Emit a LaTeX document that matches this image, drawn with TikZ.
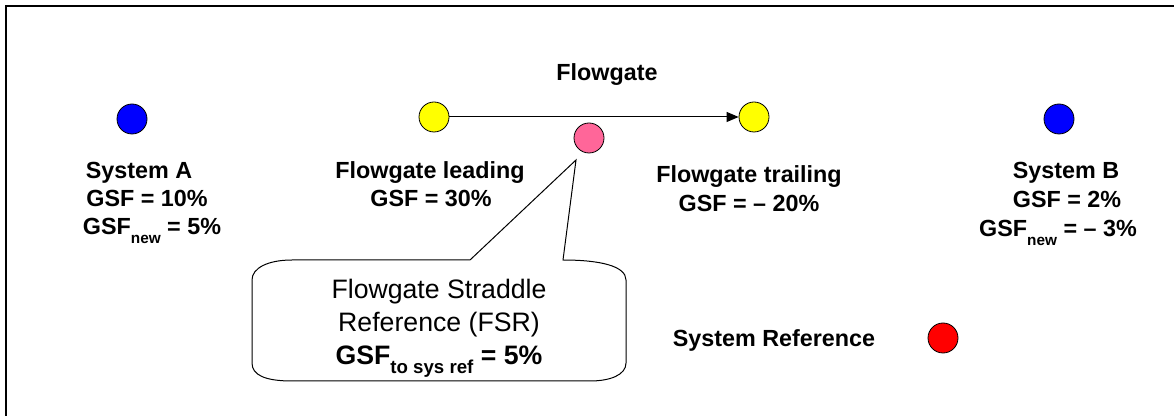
\documentclass[tikz,border=0pt]{standalone}
\usepackage{fontspec}
\setmainfont{Liberation Sans}
\usetikzlibrary{arrows.meta}

\definecolor{busblue}{RGB}{0,0,255}
\definecolor{fgyellow}{RGB}{255,255,0}
\definecolor{fsrpink}{RGB}{255,102,153}
\definecolor{refred}{RGB}{255,0,0}

% lowered, smaller subscript text: #1 size, #2 drop, #3 text
\newcommand{\lowsub}[3]{\raisebox{-#2}{\fontsize{#1}{#1}\selectfont #3}}

\begin{document}
\begin{tikzpicture}[x=0.75pt,y=-0.75pt,
  bus/.style={circle, draw=black, line width=0.6pt, minimum size=22.5pt, inner sep=0pt},
  lbl/.style={font=\bfseries\fontsize{17.5}{21}\selectfont, anchor=base, inner sep=0pt},
  note/.style={font=\fontsize{20}{24}\selectfont, anchor=base, inner sep=0pt},
  link/.style={line width=0.75pt, -{Triangle[length=9pt,width=7.5pt]}},
  outline/.style={line width=0.75pt, fill=white}]

\useasboundingbox (0,0) rectangle (1174,416);
\fill[white] (0,0) rectangle (1174,416);
% frame (top and left edges)
\draw[line width=1.5pt] (6,416) -- (6,6) -- (1174,6);

% buses
\node[bus, fill=busblue]  (sysA)   at (132,119) {};
\node[bus, fill=fgyellow] (lead)   at (434,117) {};
\node[bus, fill=fgyellow] (trail)  at (754,117) {};
\node[bus, fill=fsrpink]  (fsr)    at (589,138) {};
\node[bus, fill=busblue]  (sysB)   at (1059,119) {};
\node[bus, fill=refred]   (sysref) at (943,338) {};

% flowgate
\draw[link] (lead) -- (trail);
\node[lbl] (fgtitle) at (607,81) {Flowgate};

% System A
\node[lbl] (aname) at (139,179) {System A};
\node[lbl] (agsf)  at (147,207) {GSF = 10\%};
\node[lbl] (anew)  at (152,235) {GSF\lowsub{11.5}{6.5pt}{new} = 5\%};

% flowgate leading
\node[lbl] (lname) at (430,179) {Flowgate leading};
\node[lbl] (lgsf)  at (431,207) {GSF = 30\%};

% flowgate trailing
\node[lbl] (tname) at (749,183) {Flowgate trailing};
\node[lbl] (tgsf)  at (749,212) {GSF = – 20\%};

% System B
\node[lbl] (bname) at (1066,179) {System B};
\node[lbl] (bgsf)  at (1067,208) {GSF = 2\%};
\node[lbl] (bnew)  at (1058,237) {GSF\lowsub{11.5}{6.5pt}{new} = – 3\%};

% system reference
\node[lbl] (refname) at (774,347) {System Reference};

% callout for the flowgate straddle reference
\coordinate (tip) at (576,160);
\draw[outline] (470,260) -- (tip) -- (563,260)
  .. controls (600,260) and (626,266) .. (626,280) -- (626,363)
  .. controls (626,375) and (610,381) .. (590,381) -- (292,381)
  .. controls (265,381) and (252,375) .. (252,363) -- (252,280)
  .. controls (252,268) and (268,260) .. (292,260) -- cycle;
\node[note] (fsr1) at (439,299) {Flowgate Straddle};
\node[note] (fsr2) at (439,332) {Reference (FSR)};
\node[note, font=\bfseries\fontsize{20}{24}\selectfont] (fsr3) at (439,365)
  {GSF\lowsub{14}{6pt}{to sys ref} = 5\%};
\end{tikzpicture}
\end{document}
